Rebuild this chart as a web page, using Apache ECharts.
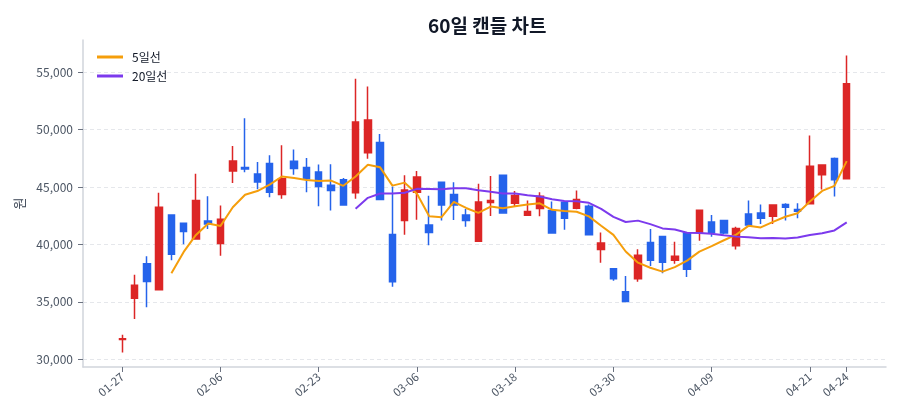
<!DOCTYPE html>
<html>
<head>
<meta charset="utf-8">
<script src="https://cdn.jsdelivr.net/npm/echarts@6/dist/echarts.min.js"></script>
<style>
  html, body { margin: 0; padding: 0; background: #ffffff; }
  #chart { width: 900px; height: 420px; }
</style>
</head>
<body>
<div id="chart"></div>
<script>
const dates = ['01-27','01-28','01-29','01-30','01-31','02-03','02-04','02-05','02-06',
  '02-07','02-09','02-11','02-13','02-16','02-18','02-20','02-23',
  '02-24','02-25','02-26','02-27','03-02','03-03','03-05','03-06',
  '03-07','03-09','03-10','03-11','03-12','03-13','03-16','03-18',
  '03-19','03-20','03-23','03-24','03-25','03-26','03-27','03-30',
  '03-31','04-01','04-02','04-03','04-06','04-07','04-08','04-09',
  '04-10','04-13','04-14','04-15','04-16','04-17','04-20','04-21',
  '04-22','04-23','04-24'];

const opens = [31720,35320,38330,36050,42570,41840,40470,42050,40090,46400,
  46700,46140,47050,44360,47250,46700,46320,45150,45640,44500,
  47980,48890,40880,42080,44560,41700,45410,44360,42570,40290,
  43650,46020,43600,42540,43130,42950,43680,43160,43330,39560,
  37890,35880,37020,40180,40700,38630,40990,41050,41960,42080,
  39880,42660,42750,42460,43480,43040,43540,46080,47490,45730];

const closes = [31790,36460,36780,43250,39150,41140,43830,41780,42190,47280,
  46580,45440,44560,45730,46610,45730,45060,44710,43450,50670,
  50850,43920,36750,44740,45880,41050,43450,43450,42080,43710,
  43830,42750,44270,42870,44210,40990,42280,43920,40850,40120,
  37020,35030,39060,38630,38450,38980,37840,42980,41050,41000,
  41400,41700,42280,43450,43250,42890,46810,46930,45640,54010];

const lows = [30585,33510,34530,36050,38630,40030,40470,41350,39010,45350,
  46290,44820,44120,43980,46080,44560,43330,42950,43450,43980,
  47460,43920,36320,40850,42160,39940,42080,42130,41550,40290,
  42490,42750,43360,42490,42460,40990,41290,43070,40850,38420,
  36840,35030,36750,38130,37490,38330,37160,40320,40670,40910,
  39560,41700,41780,41780,42080,42280,43540,44800,44180,45730];

const highs = [32130,37370,38980,44500,42570,41840,46170,44210,43390,48570,
  50990,47190,47780,48650,48270,47540,46960,46990,45790,54440,
  53770,49620,45060,46020,46400,44240,45410,45410,43100,45290,
  45960,46020,44650,43830,44560,43740,43740,44710,43480,41050,
  37890,37250,39590,41350,40700,40230,40990,42980,42570,42130,
  41550,43830,43480,43450,43600,43600,49500,46930,47570,56460];

const yTicks = [30000, 35000, 40000, 45000, 50000, 55000];
const xTickIdx = [0, 8, 16, 24, 32, 40, 48, 56, 59];
const seriesNames = ['5일선', '20일선'];
const titleText = '60일 캔들 차트';
const yName = '원';

function movingAvg(vals, n) {
  const out = [];
  for (let i = n - 1; i < vals.length; i++) {
    let s = 0;
    for (let k = i - n + 1; k <= i; k++) s += vals[k];
    out.push([i, s / n]);
  }
  return out;
}

const candleData = dates.map((d, i) => [i, opens[i], closes[i], lows[i], highs[i]]);
const FONT = '"Noto Sans CJK KR", "Noto Sans", sans-serif';

const chart = echarts.init(document.getElementById('chart'), null, { renderer: 'canvas' });
chart.setOption({
  animation: false,
  backgroundColor: '#ffffff',
  textStyle: { fontFamily: FONT },
  title: {
    text: titleText,
    left: 423,
    top: 11,
    textStyle: { fontSize: 19, fontWeight: 'bold', color: '#111827', fontFamily: FONT }
  },
  legend: {
    data: seriesNames,
    orient: 'vertical',
    left: 92,
    top: 46,
    icon: 'rect',
    itemWidth: 26,
    itemHeight: 3,
    itemGap: 7,
    textStyle: { fontSize: 12, color: '#111827', fontFamily: FONT, padding: [0, 0, 0, 4] }
  },
  grid: { left: 83, right: 14, top: 40, bottom: 53, containLabel: false },
  xAxis: {
    type: 'value',
    min: -3.2,
    max: 62.2,
    axisLine: { show: true, onZero: false, lineStyle: { color: '#d1d5db', width: 1.5 } },
    axisTick: { show: true, length: 5, customValues: xTickIdx, lineStyle: { color: '#6b7280' } },
    axisLabel: {
      customValues: xTickIdx,
      formatter: v => dates[Math.round(v)] || '',
      rotate: 40,
      fontSize: 11.5,
      color: '#4b5563',
      margin: 8,
      fontFamily: FONT
    },
    splitLine: { show: false }
  },
  yAxis: {
    type: 'value',
    min: 29330,
    max: 57810,
    splitNumber: 5,
    name: yName,
    nameLocation: 'middle',
    nameGap: 57,
    nameTextStyle: { fontSize: 13, color: '#374151', fontFamily: FONT },
    axisLine: { show: true, onZero: false, lineStyle: { color: '#d1d5db', width: 1.5 } },
    axisTick: { show: true, length: 5, customValues: yTicks, lineStyle: { color: '#6b7280' } },
    axisLabel: {
      customValues: yTicks,
      formatter: v => Number(v).toLocaleString('en-US'),
      fontSize: 12,
      color: '#4b5563',
      margin: 10,
      fontFamily: FONT
    },
    splitLine: {
      show: true,
      lineStyle: { color: '#e5e7eb', type: [4, 3], width: 1 }
    }
  },
  series: [
    {
      type: 'candlestick',
      name: '캔들',
      data: candleData,
      encode: { x: 0, y: [1, 2, 3, 4] },
      barWidth: 7,
      itemStyle: {
        color: '#dc2626',
        color0: '#2563eb',
        borderColor: '#dc2626',
        borderColor0: '#2563eb',
        borderWidth: 1.5
      }
    },
    {
      type: 'line',
      name: seriesNames[0],
      data: movingAvg(closes, 5),
      showSymbol: false,
      color: '#f59e0b',
      lineStyle: { color: '#f59e0b', width: 2 },
      z: 3
    },
    {
      type: 'line',
      name: seriesNames[1],
      data: movingAvg(closes, 20),
      showSymbol: false,
      color: '#7c3aed',
      lineStyle: { color: '#7c3aed', width: 2 },
      z: 3
    }
  ]
});
</script>
</body>
</html>
